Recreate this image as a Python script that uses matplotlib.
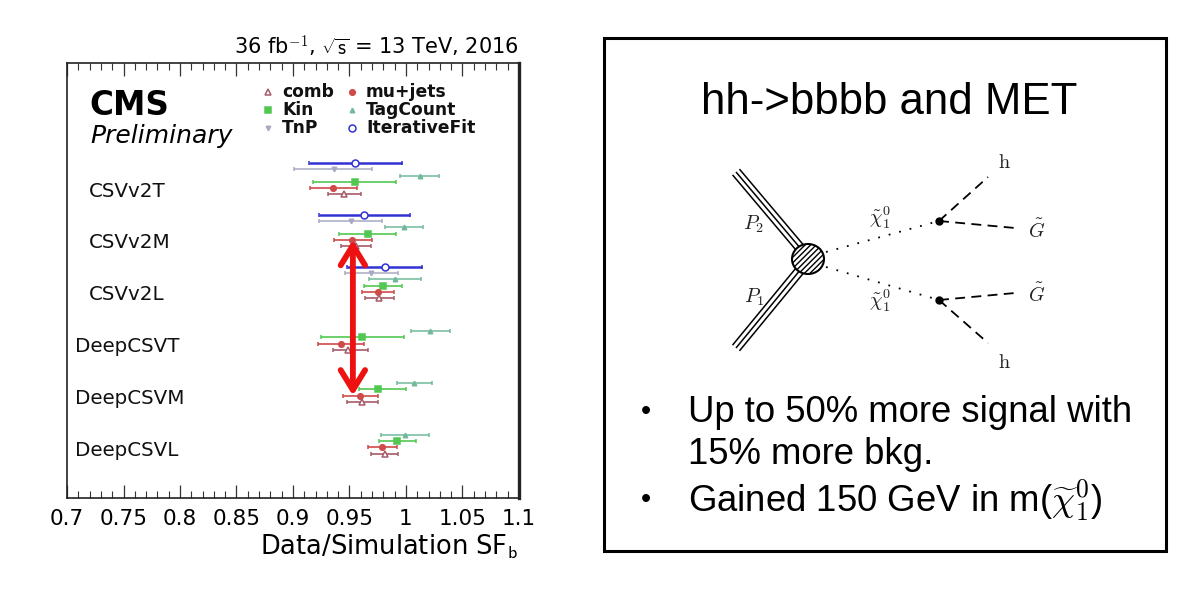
import numpy as np
import matplotlib
matplotlib.use('Agg')
import matplotlib.pyplot as plt
from matplotlib.patches import Rectangle, Ellipse

plt.rcParams['font.family'] = ['DejaVu Sans']
plt.rcParams['mathtext.fontset'] = 'cm'

# ---------------- data ----------------
taggers = ['CSVv2T', 'CSVv2M', 'CSVv2L', 'DeepCSVT', 'DeepCSVM', 'DeepCSVL']
nan = np.nan
# central value, lower and upper end of error bar, per tagger
iterfit_val = [0.955, 0.963, 0.981, nan, nan, nan]
iterfit_lo = [0.914, 0.923, 0.948, nan, nan, nan]
iterfit_hi = [0.9965, 1.0035, 1.0145, nan, nan, nan]
tnp_val = [0.936, 0.951, 0.969, nan, nan, nan]
tnp_lo = [0.901, 0.923, 0.946, nan, nan, nan]
tnp_hi = [0.970, 0.979, 0.993, nan, nan, nan]
tagcount_val = [1.012, 0.998, 0.990, 1.021, 1.007, 0.999]
tagcount_lo = [0.995, 0.981, 0.967, 1.004, 0.992, 0.978]
tagcount_hi = [1.029, 1.015, 1.0136, 1.039, 1.023, 1.020]
kin_val = [0.955, 0.966, 0.980, 0.961, 0.975, 0.992]
kin_lo = [0.918, 0.941, 0.963, 0.925, 0.958, 0.976]
kin_hi = [0.991, 0.991, 0.9965, 0.998, 1.000, 1.0086]
mujets_val = [0.935, 0.9525, 0.975, 0.9425, 0.959, 0.979]
mujets_lo = [0.915, 0.936, 0.961, 0.922, 0.944, 0.966]
mujets_hi = [0.957, 0.970, 0.989, 0.963, 0.9755, 0.992]
comb_val = [0.945, 0.956, 0.976, 0.949, 0.961, 0.981]
comb_lo = [0.931, 0.9425, 0.964, 0.935, 0.948, 0.969]
comb_hi = [0.960, 0.969, 0.989, 0.966, 0.9755, 0.993]

xtick_values = [0.7, 0.75, 0.8, 0.85, 0.9, 0.95, 1.0, 1.05, 1.1]
xtick_labels = ['0.7', '0.75', '0.8', '0.85', '0.9', '0.95', '1', '1.05', '1.1']

# arrow annotation: SF value and the rows it joins (group index, row index)
arrow_sf = 0.953
arrow_from = (1, 4)
arrow_to = (4, 4)

# ---------------- style ----------------
# (name, values, lo, hi, marker, color, markersize, filled, linewidth, row)
series = [
    ('IterativeFit', iterfit_val, iterfit_lo, iterfit_hi, 'o', '#3232d2', 5.0, False, 1.8, 0),
    ('TnP', tnp_val, tnp_lo, tnp_hi, 'v', '#a9a9c2', 3.2, True, 1.1, 1),
    ('TagCount', tagcount_val, tagcount_lo, tagcount_hi, '^', '#72b99c', 3.2, True, 1.1, 2),
    ('Kin', kin_val, kin_lo, kin_hi, 's', '#52c852', 4.0, True, 1.2, 3),
    ('mu+jets', mujets_val, mujets_lo, mujets_hi, 'o', '#cf4a4a', 4.0, True, 1.2, 4),
    ('comb', comb_val, comb_lo, comb_hi, '^', '#a65c68', 4.5, False, 1.2, 5),
]

first_row = 16.0
group_pitch = 8.3
y_bottom_lim = 69.6


def ypos(g, r):
    return first_row + g * group_pitch + r


W, H = 1200, 599
fig = plt.figure(figsize=(12, 5.99), dpi=100)
fig.patch.set_facecolor('white')

# ---------------- right panel (pixel-space overlay) ----------------
ov = fig.add_axes([0, 0, 1, 1], zorder=0)
ov.set_xlim(0, W)
ov.set_ylim(H, 0)
ov.axis('off')

ov.add_patch(Rectangle((604, 37.5), 562, 513.5, fill=False, edgecolor='black', lw=2.2))
ov.text(889, 103, 'hh->bbbb and MET', family='Liberation Sans', fontsize=31.5,
        ha='center', va='center')
bfont = dict(family='Liberation Sans', fontsize=26.3, va='center', ha='left')
dfont = dict(family='Liberation Sans', fontsize=21, va='center', ha='center')
ov.text(646, 412, '\u2022', **dfont)
ov.text(688, 412, 'Up to 50% more signal with', **bfont)
ov.text(688, 455, '15% more bkg.', **bfont)
ov.text(646, 500, '\u2022', **dfont)
ov.text(688, 500, r'Gained 150 GeV in m($\widetilde{\chi}_1^0$)', **bfont)

# Feynman diagram
blob_c = (808, 259)
for (x0, y0), (x1, y1) in [((736, 172), (801, 249)), ((736, 348), (801, 269))]:
    d = np.array([x1 - x0, y1 - y0], float)
    d /= np.hypot(*d)
    n = np.array([-d[1], d[0]])
    for k in (-4.5, 0, 4.5):
        ov.plot([x0 + k * n[0], x1 + k * n[0]], [y0 + k * n[1], y1 + k * n[1]],
                color='black', lw=1.1, solid_capstyle='butt')
ov.add_patch(Ellipse(blob_c, 32, 30, facecolor='white', edgecolor='black',
                     lw=1.5, hatch='//////', zorder=3))
vtx_up = (939, 221)
vtx_dn = (939, 300)
ov.plot([826, vtx_up[0]], [252, vtx_up[1]], color='black', lw=1.3, linestyle=(0, (1, 5)))
ov.plot([826, vtx_dn[0]], [267, vtx_dn[1]], color='black', lw=1.3, linestyle=(0, (1, 5)))
for v, ends in [(vtx_up, [(988, 177), (1015, 228)]), (vtx_dn, [(1015, 293), (988, 343)])]:
    for e in ends:
        ov.plot([v[0], e[0]], [v[1], e[1]], color='black', lw=1.3, linestyle=(0, (5.5, 3.5)))
    ov.plot([v[0]], [v[1]], 'o', color='black', ms=5)
lab = dict(fontsize=14.5, ha='center', va='center', color='#222222')
ov.text(754, 224, r'$P_2$', **lab)
ov.text(754, 297, r'$P_1$', **lab)
ov.text(880, 218, r'$\tilde{\chi}_1^0$', **lab)
ov.text(880, 301, r'$\tilde{\chi}_1^0$', **lab)
ov.text(1004, 163, r'$\mathrm{h}$', **lab)
ov.text(1004, 362, r'$\mathrm{h}$', **lab)
ov.text(1037, 230, r'$\tilde{G}$', **lab)
ov.text(1037, 294, r'$\tilde{G}$', **lab)

# ---------------- left panel ----------------
ax = fig.add_axes([67 / W, (H - 498) / H, 452 / W, 435 / H], zorder=1)
ax.set_xlim(0.7, 1.1)
ax.set_ylim(y_bottom_lim, 0)

for name, val, lo, hi, mk, col, ms, filled, lw, row in series:
    val = np.array(val, float)
    lo = np.array(lo, float)
    hi = np.array(hi, float)
    ys = np.array([ypos(g, row) for g in range(len(taggers))])
    ok = ~np.isnan(val)
    ax.errorbar(val[ok], ys[ok], xerr=[val[ok] - lo[ok], hi[ok] - val[ok]],
                fmt=mk, color=col, ecolor=col, elinewidth=lw, capsize=1.6,
                capthick=lw, ms=ms, mfc=col if filled else 'white', mec=col,
                mew=1.1, zorder=3)

for g, t in enumerate(taggers):
    xa = 0.048 if t.startswith('CSV') else 0.017
    ax.text(xa, ypos(g, 4.5), t, transform=ax.get_yaxis_transform(), fontsize=14.3,
            ha='left', va='center', color='#111111')

# legend (manual)
leg_cols = [0.4454, 0.6305]
leg_rows = [0.9326, 0.892, 0.8513]
leg_layout = {'comb': (0, 0), 'Kin': (0, 1), 'TnP': (0, 2),
              'mu+jets': (1, 0), 'TagCount': (1, 1), 'IterativeFit': (1, 2)}
for name, val, lo, hi, mk, col, ms, filled, lw, row in series:
    c, r = leg_layout[name]
    ax.plot([leg_cols[c]], [leg_rows[r]], mk, transform=ax.transAxes, color=col,
            ms=ms, mfc=col if filled else 'white', mec=col, mew=1.1, clip_on=False)
    ax.text(leg_cols[c] + 0.031, leg_rows[r], name, transform=ax.transAxes,
            fontsize=12.3, fontweight='bold', ha='left', va='center', color='#111111')

ax.text(0.049, 0.881, 'CMS', transform=ax.transAxes, fontsize=23.5, fontweight='bold',
        ha='left', va='baseline')
ax.text(0.052, 0.817, 'Preliminary', transform=ax.transAxes, fontsize=18,
        style='italic', ha='left', va='baseline')
ax.text(1.0, 1.018, r'36 fb$^{\mathsf{-1}}$, $\sqrt{\mathsf{s}}$ = 13 TeV, 2016',
        transform=ax.transAxes, fontsize=15, ha='right', va='baseline')

ax.annotate('', xy=(arrow_sf, ypos(*arrow_to)), xytext=(arrow_sf, ypos(*arrow_from)),
            arrowprops=dict(arrowstyle='<->,head_length=0.65,head_width=0.4',
                            color='#ee1111', lw=4.2, mutation_scale=22,
                            shrinkA=0, shrinkB=0), zorder=5)

ax.set_xticks(xtick_values)
ax.set_xticklabels(xtick_labels)
ax.set_xticks(np.arange(0.70, 1.1001, 0.01), minor=True)
ax.set_yticks([])
ax.tick_params(axis='x', which='both', direction='in', top=True, bottom=True,
               labelsize=15.5, pad=8, color='#333333')
ax.tick_params(axis='x', which='major', length=9.5, width=0.9)
ax.tick_params(axis='x', which='minor', length=4.8, width=0.8)
for s in ax.spines.values():
    s.set_linewidth(1.2)
    s.set_color('#222222')
ax.spines['right'].set_linewidth(2.4)

ax.set_xlabel(r'Data/Simulation SF$_{\mathsf{b}}$', fontsize=18.5, loc='right')
ax.xaxis.set_label_coords(1.0, -0.08)

fig.savefig('out.png', dpi=100)
